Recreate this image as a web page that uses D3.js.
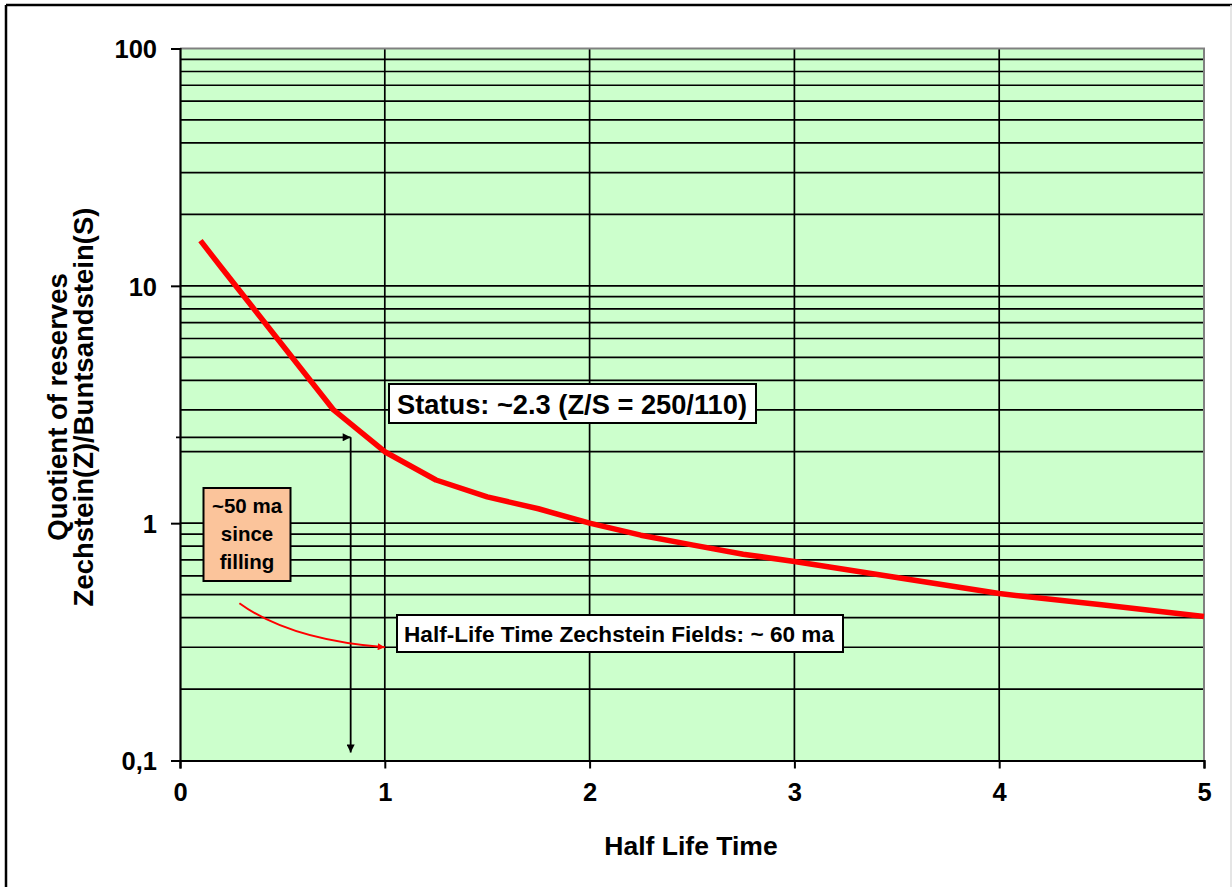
<!DOCTYPE html>
<html>
<head>
<meta charset="utf-8">
<script src="https://cdn.jsdelivr.net/npm/d3@7"></script>
<style>
  html, body { margin: 0; padding: 0; background: #ffffff; }
  svg text { font-family: "Liberation Sans", Arial, sans-serif; font-weight: bold; fill: #000; }
</style>
</head>
<body>
<svg id="chart" width="1232" height="887"></svg>
<script>
// Quotient of reserves Zechstein / Buntsandstein versus elapsed half-lives
const halfLives = [0.1, 0.2, 0.75, 1, 1.25, 1.5, 1.75, 2, 2.25, 2.5, 2.75, 3, 3.5, 4, 4.5, 5];
const quotients = [15.5, 12, 3.0, 2.0, 1.52, 1.29, 1.15, 1.0, 0.89, 0.81, 0.74, 0.69, 0.59, 0.505, 0.453, 0.404];

const xTicks = [0, 1, 2, 3, 4, 5];
const yTicks = [0.1, 1, 10, 100];
const yTickLabels = ["0,1", "1", "10", "100"];

// current status: ~50 ma since filling, half-life ~60 ma -> 50/60 half-lives, quotient ~2.3
const statusHalfLives = 50 / 60;
const statusQuotient = 2.3;

const xTitle = "Half Life Time";
const yTitleLines = ["Quotient of reserves", "Zechstein(Z)/Buntsandstein(S)"];
const statusLabel = "Status: ~2.3 (Z/S = 250/110)";
const halfLifeLabel = "Half-Life Time Zechstein Fields: ~ 60 ma";
const fillingLabel = ["~50 ma", "since", "filling"];

const svg = d3.select("#chart");
const plot = { left: 180, right: 1204, top: 48.5, bottom: 760.5 };

const x = d3.scaleLinear().domain([0, 5]).range([plot.left, plot.right]);
const y = d3.scaleLog().domain([0.1, 100]).range([plot.bottom, plot.top]);

// outer chart frame
svg.append("line").attr("x1", 6).attr("x2", 1232).attr("y1", 5).attr("y2", 5)
  .attr("stroke", "#000").attr("stroke-width", 2.5);
svg.append("line").attr("x1", 6).attr("x2", 6).attr("y1", 5).attr("y2", 887)
  .attr("stroke", "#000").attr("stroke-width", 2.5);
svg.append("line").attr("x1", 1231).attr("x2", 1231).attr("y1", 5).attr("y2", 887)
  .attr("stroke", "#dddddd").attr("stroke-width", 1.5);

// plot background
svg.append("rect")
  .attr("x", plot.left).attr("y", plot.top)
  .attr("width", plot.right - plot.left).attr("height", plot.bottom - plot.top)
  .attr("fill", "#CCFFCC");

// horizontal gridlines at every integer multiple within each decade
const gridValues = [];
for (let dec = 0.1; dec < 100; dec *= 10) {
  for (let m = 1; m <= 9; m++) {
    const v = +(dec * m).toPrecision(3);
    if (v > 0.1 && v < 100) gridValues.push(v);
  }
}
svg.append("g").selectAll("line").data(gridValues).join("line")
  .attr("x1", plot.left).attr("x2", plot.right)
  .attr("y1", d => y(d)).attr("y2", d => y(d))
  .attr("stroke", "#000").attr("stroke-width", 1.7);

// vertical gridlines
svg.append("g").selectAll("line").data(xTicks.filter(d => d > 0 && d < 5)).join("line")
  .attr("x1", d => x(d)).attr("x2", d => x(d))
  .attr("y1", plot.top).attr("y2", plot.bottom)
  .attr("stroke", "#000").attr("stroke-width", 1.7);

// top and right plot border
svg.append("path")
  .attr("d", `M${plot.left},${plot.top}H${plot.right}V${plot.bottom}`)
  .attr("fill", "none").attr("stroke", "#808080").attr("stroke-width", 2);

// axes
const xAxis = d3.axisBottom(x).tickValues(xTicks).tickSize(8).tickPadding(14)
  .tickFormat(d3.format("d"));
const gx = svg.append("g").attr("transform", `translate(0,${plot.bottom})`).call(xAxis);
gx.select(".domain").attr("stroke", "#000").attr("stroke-width", 2.2);
gx.selectAll(".tick line").attr("stroke", "#000").attr("stroke-width", 2);
gx.selectAll(".tick text").attr("font-size", 25.5).attr("font-family", "Liberation Sans, Arial, sans-serif")
  .attr("font-weight", "bold").attr("dy", "0.71em");

const yAxis = d3.axisLeft(y).tickValues(yTicks).tickSize(9).tickPadding(14)
  .tickFormat((d, i) => yTickLabels[i]);
const gy = svg.append("g").attr("transform", `translate(${plot.left},0)`).call(yAxis);
gy.select(".domain").attr("stroke", "#000").attr("stroke-width", 2.2);
gy.selectAll(".tick line").attr("stroke", "#000").attr("stroke-width", 2);
gy.selectAll(".tick text").attr("font-size", 25.5).attr("font-family", "Liberation Sans, Arial, sans-serif")
  .attr("font-weight", "bold").attr("dy", "0.36em");

// axis titles
svg.append("text").attr("x", (plot.left + plot.right) / 2 - 1).attr("y", 855)
  .attr("text-anchor", "middle").attr("font-size", 26.5).text(xTitle);

const yTitleX = [67, 93];
yTitleLines.forEach((t, i) => {
  svg.append("text")
    .attr("transform", `translate(${yTitleX[i]},${407}) rotate(-90)`)
    .attr("text-anchor", "middle").attr("font-size", 27.5).text(t);
});

// curve
const line = d3.line()
  .x((d, i) => x(halfLives[i]))
  .y(d => y(d))
  .curve(d3.curveLinear);
svg.append("path").datum(quotients)
  .attr("d", line)
  .attr("fill", "none").attr("stroke", "#FF0000").attr("stroke-width", 5.5)
  .attr("stroke-linejoin", "round").attr("stroke-linecap", "butt");

// arrow markers
const defs = svg.append("defs");
defs.append("marker").attr("id", "arrowBlack")
  .attr("viewBox", "0 0 10 10").attr("refX", 10).attr("refY", 5)
  .attr("markerWidth", 10).attr("markerHeight", 8).attr("markerUnits", "userSpaceOnUse")
  .attr("orient", "auto")
  .append("path").attr("d", "M0,0L10,5L0,10Z").attr("fill", "#000");
defs.append("marker").attr("id", "arrowRed")
  .attr("viewBox", "0 0 10 10").attr("refX", 10).attr("refY", 5)
  .attr("markerWidth", 11).attr("markerHeight", 7).attr("markerUnits", "userSpaceOnUse")
  .attr("orient", "auto")
  .append("path").attr("d", "M0,0L10,5L0,10Z").attr("fill", "#FF0000");

// status read-off arrows: from the y axis to the status point, then down to the x axis
const sx = x(statusHalfLives), sy = y(statusQuotient);
svg.append("line")
  .attr("x1", plot.left - 4).attr("y1", sy).attr("x2", sx).attr("y2", sy)
  .attr("stroke", "#000").attr("stroke-width", 1.8).attr("marker-end", "url(#arrowBlack)");
svg.append("line")
  .attr("x1", sx).attr("y1", sy).attr("x2", sx).attr("y2", plot.bottom - 8)
  .attr("stroke", "#000").attr("stroke-width", 1.8).attr("marker-end", "url(#arrowBlack)");

// status label box
const statusBox = svg.append("g");
statusBox.append("rect").attr("x", 389).attr("y", 384).attr("width", 367).attr("height", 39)
  .attr("fill", "#fff").attr("stroke", "#000").attr("stroke-width", 2);
statusBox.append("text").attr("x", 397).attr("y", 414).attr("font-size", 27)
  .attr("textLength", 350).attr("lengthAdjust", "spacingAndGlyphs").text(statusLabel);

// "~50 ma since filling" box
const fillBox = svg.append("g");
fillBox.append("rect").attr("x", 203.5).attr("y", 488).attr("width", 87).attr("height", 93)
  .attr("fill", "#FBC49B").attr("stroke", "#000").attr("stroke-width", 2);
const fillBaselines = [513, 541, 569];
fillingLabel.forEach((t, i) => {
  fillBox.append("text").attr("x", 247).attr("y", fillBaselines[i])
    .attr("text-anchor", "middle").attr("font-size", 20.5).text(t);
});

// red curved arrow pointing to the half-life box
const arrowStart = [x(0.29), y(0.46)];
const arrowEnd = [x(1), y(0.3)];
svg.append("path")
  .attr("d", `M${arrowStart[0]},${arrowStart[1]}Q${290},${640} ${arrowEnd[0]},${arrowEnd[1]}`)
  .attr("fill", "none").attr("stroke", "#FF0000").attr("stroke-width", 2)
  .attr("marker-end", "url(#arrowRed)");

// half-life label box
const hlBox = svg.append("g");
hlBox.append("rect").attr("x", 397).attr("y", 615).attr("width", 446).attr("height", 37)
  .attr("fill", "#fff").attr("stroke", "#000").attr("stroke-width", 2);
hlBox.append("text").attr("x", 404).attr("y", 641.5).attr("font-size", 21.5)
  .attr("textLength", 430).attr("lengthAdjust", "spacingAndGlyphs").text(halfLifeLabel);
</script>
</body>
</html>
